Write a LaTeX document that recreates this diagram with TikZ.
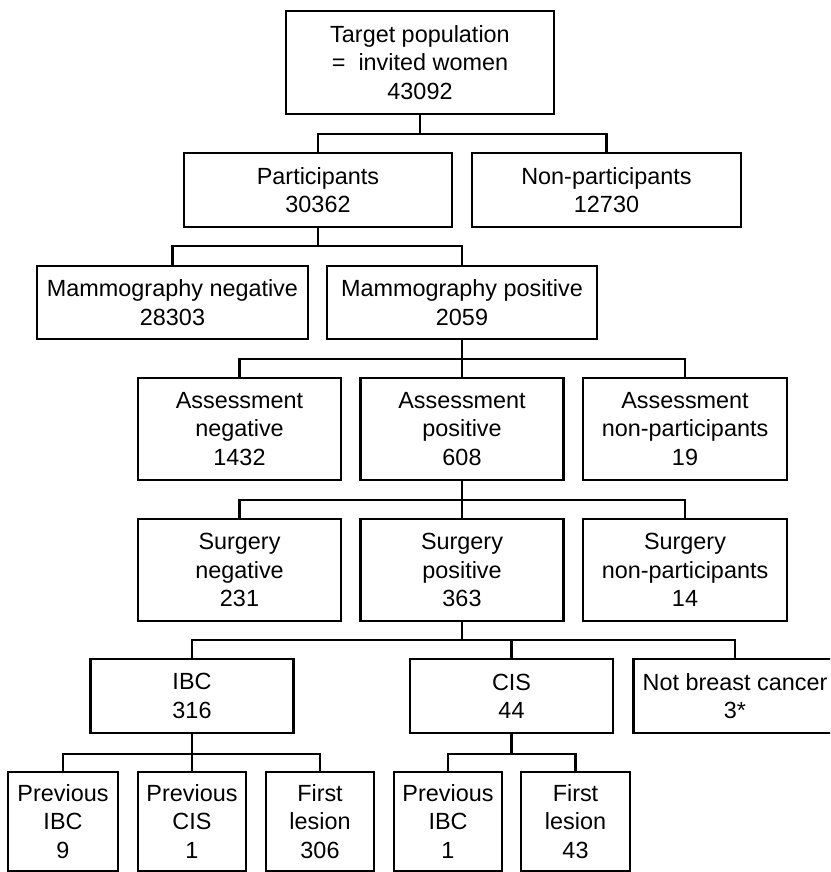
\documentclass[tikz,border=0pt]{standalone}
\usepackage{fontspec}
\setmainfont{Liberation Sans}
\usetikzlibrary{calc}
\begin{document}
\begin{tikzpicture}[x=1pt,y=1pt,
  bx/.style={draw=black, line width=2.3pt, rectangle, inner sep=0pt, align=center,
    font=\fontsize{23.4}{28.3}\selectfont},
  cn/.style={draw=black, line width=2.3pt}]
\useasboundingbox (0,0) rectangle (830,-872);
\fill[white] (0,0) rectangle (830,-872);
\clip (0,0) rectangle (830,-872);
% level 0
\node[bx, minimum width=268pt, minimum height=103pt] (top) at (420,-62.5) {Target population\\= \ invited women\\43092};
% level 1
\node[bx, minimum width=268pt, minimum height=74pt] (part) at (318,-190) {Participants\\30362};
\node[bx, minimum width=269pt, minimum height=74pt] (nonp) at (606.5,-190) {Non-participants\\12730};
% level 2
\node[bx, minimum width=271pt, minimum height=73pt] (mneg) at (172.5,-302.5) {Mammography negative\\28303};
\node[bx, minimum width=270pt, minimum height=73pt] (mpos) at (462,-302.5) {Mammography positive\\2059};
% level 3
\node[bx, minimum width=203pt, minimum height=102pt] (aneg) at (239.5,-429) {Assessment\\negative\\1432};
\node[bx, minimum width=203pt, minimum height=102pt] (apos) at (462,-429) {Assessment\\positive\\608};
\node[bx, minimum width=204pt, minimum height=102pt] (anon) at (685,-429) {Assessment\\non-participants\\19};
% level 4
\node[bx, minimum width=203pt, minimum height=102pt] (sneg) at (239.5,-570) {Surgery\\negative\\231};
\node[bx, minimum width=203pt, minimum height=102pt] (spos) at (462,-570) {Surgery\\positive\\363};
\node[bx, minimum width=204pt, minimum height=102pt] (snon) at (685,-570) {Surgery\\non-participants\\14};
% level 5
\node[bx, minimum width=203pt, minimum height=74pt] (ibc) at (192,-696) {IBC\\316};
\node[bx, minimum width=203pt, minimum height=74pt] (cis) at (511.5,-696) {CIS\\44};
\node[bx, minimum width=203pt, minimum height=74pt] (nbc) at (735,-696) {Not breast cancer\\3*};
% level 6
\node[bx, minimum width=110pt, minimum height=99pt] (pibc) at (63,-821.5) {Previous\\IBC\\9};
\node[bx, minimum width=108pt, minimum height=99pt] (pcis) at (192,-821.5) {Previous\\CIS\\1};
\node[bx, minimum width=108pt, minimum height=99pt] (fl1) at (320,-821.5) {First\\lesion\\306};
\node[bx, minimum width=108pt, minimum height=99pt] (pibc2) at (448,-821.5) {Previous\\IBC\\1};
\node[bx, minimum width=109pt, minimum height=99pt] (fl2) at (575.5,-821.5) {First\\lesion\\43};
% connectors
\draw[cn] (top.south) -- ++(0,-19) coordinate (j1);
\draw[cn] (part.north) |- (j1) -| (nonp.north);
\draw[cn] (part.south) -- ++(0,-18) coordinate (j2);
\draw[cn] (mneg.north) |- (j2) -| (mpos.north);
\draw[cn] (mpos.south) -- (apos.north);
\coordinate (j3) at ($(mpos.south)+(0,-19)$);
\draw[cn] (aneg.north) |- (j3) -| (anon.north);
\draw[cn] (apos.south) -- (spos.north);
\coordinate (j4) at ($(apos.south)+(0,-19)$);
\draw[cn] (sneg.north) |- (j4) -| (snon.north);
\draw[cn] (spos.south) -- ++(0,-18) coordinate (j5);
\draw[cn] (ibc.north) |- (j5) -| (nbc.north);
\draw[cn] (j5) -| (cis.north);
\draw[cn] (ibc.south) -- (pcis.north);
\coordinate (j6) at ($(ibc.south)+(0,-20)$);
\draw[cn] (pibc.north) |- (j6) -| (fl1.north);
\draw[cn] (cis.south) -- ++(0,-20) coordinate (j7);
\draw[cn] (pibc2.north) |- (j7) -| (fl2.north);
\end{tikzpicture}
\end{document}
